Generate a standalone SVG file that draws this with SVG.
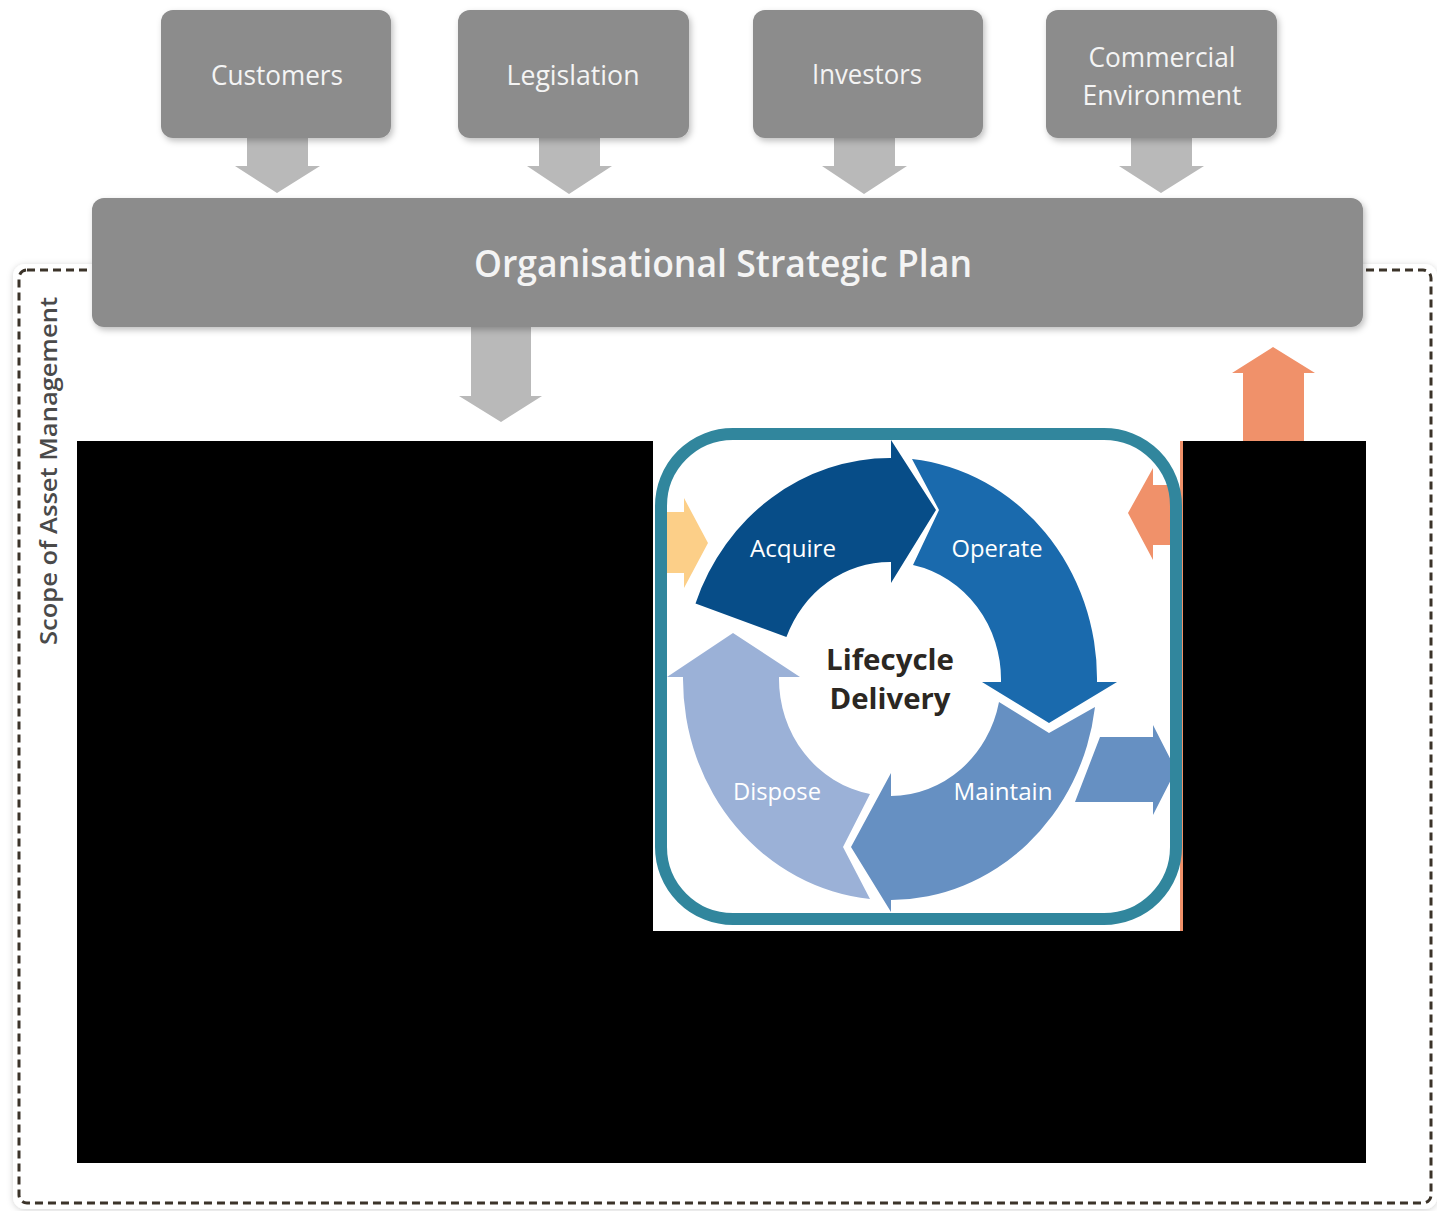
<svg xmlns="http://www.w3.org/2000/svg" width="1437" height="1211" viewBox="0 0 1437 1211">
<defs>
<style>
.box{fill:#8c8c8c;filter:url(#sh)}
.lbl{font-family:"Open Sans","Noto Sans",sans-serif;fill:#f4f4f4;text-anchor:middle}
.seg{font-family:"Open Sans","Noto Sans",sans-serif;fill:#ffffff;text-anchor:middle;font-size:24px}
.ctr{font-family:"Open Sans","Noto Sans",sans-serif;font-weight:700;font-size:29px;fill:#2b2722;text-anchor:middle}
.garrow{fill:#b9b9b9}
.red{fill:#000000}
</style>
<filter id="sh" x="-10%" y="-10%" width="120%" height="130%">
<feDropShadow dx="2" dy="3" stdDeviation="3" flood-color="#000" flood-opacity="0.25"/>
</filter>
<filter id="soft" x="-5%" y="-5%" width="110%" height="110%">
<feDropShadow dx="0" dy="1" stdDeviation="3" flood-color="#000" flood-opacity="0.18"/>
</filter>
</defs>
<rect width="1437" height="1211" fill="#ffffff"/>

<g id="scope">
<rect x="13" y="264" width="1424" height="945" rx="12" fill="#ffffff" filter="url(#soft)"/>
<rect x="19" y="270" width="1412" height="933" rx="8" fill="none" stroke="#3b3329" stroke-width="3" stroke-dasharray="8 5"/>
<text x="0" y="0" transform="translate(57,471) rotate(-90)" font-family="'Open Sans','Noto Sans',sans-serif" font-weight="600" font-size="23" fill="#4a4a4a" text-anchor="middle" textLength="348" lengthAdjust="spacingAndGlyphs">Scope of Asset Management</text>
</g>

<g id="connectors">
<polygon class="garrow" points="247,137 308,137 308,166 320,166 277,193 235,166 247,166"/>
<polygon class="garrow" points="539,137 600,137 600,166 612,166 569,194 527,166 539,166"/>
<polygon class="garrow" points="834,137 895,137 895,166 907,166 864,194 822,166 834,166"/>
<polygon class="garrow" points="1131,137 1192,137 1192,166 1204,166 1161,193 1119,166 1131,166"/>
<polygon class="garrow" points="471,326 531,326 531,396 542,396 501,422 459,396 471,396"/>
<polygon fill="#f0916a" points="1243,445 1243,373 1232,373 1273,347 1315,373 1304,373 1304,445"/>
</g>

<g id="customers">
<rect class="box" x="161" y="10" width="230" height="128" rx="12"/>
<text class="lbl" x="277" y="85" font-size="27" textLength="132" lengthAdjust="spacingAndGlyphs">Customers</text>
</g>
<g id="legislation">
<rect class="box" x="458" y="10" width="231" height="128" rx="12"/>
<text class="lbl" x="573" y="85" font-size="27" textLength="133" lengthAdjust="spacingAndGlyphs">Legislation</text>
</g>
<g id="investors">
<rect class="box" x="753" y="10" width="230" height="128" rx="12"/>
<text class="lbl" x="867" y="84" font-size="27" textLength="110" lengthAdjust="spacingAndGlyphs">Investors</text>
</g>
<g id="commercial">
<rect class="box" x="1046" y="10" width="231" height="128" rx="12"/>
<text class="lbl" x="1162" y="67" font-size="27" textLength="147" lengthAdjust="spacingAndGlyphs">Commercial</text>
<text class="lbl" x="1162" y="105" font-size="27" textLength="159" lengthAdjust="spacingAndGlyphs">Environment</text>
</g>
<g id="strategic-plan">
<rect class="box" x="92" y="198" width="1271" height="129" rx="12"/>
<text class="lbl" x="723" y="277" font-size="37" font-weight="600" textLength="498" lengthAdjust="spacingAndGlyphs">Organisational Strategic Plan</text>
</g>

<g id="redacted">
<rect class="red" x="77" y="441" width="576" height="722"/>
<rect class="red" x="653" y="931" width="530" height="232"/>
<rect class="red" x="1183" y="441" width="183" height="722"/>
</g>

<g id="lifecycle">
<rect x="653" y="441" width="530" height="490" fill="#ffffff"/>
<rect x="1180" y="441" width="3" height="490" fill="#f0916a"/>
<polygon fill="#fccf88" points="655,512 684,512 684,498 708,543 684,588 684,573 655,573"/>
<polygon fill="#f0916a" points="1176,485 1153,485 1153,468 1128,513 1153,560 1153,545 1176,545"/>
<polygon fill="#6690c2" points="1100,737 1153,737 1153,725 1176,770 1153,815 1153,802 1075,802"/>
<g id="acquire">
<path fill="#074d88" d="M695.5 603.4 A207 221 0 0 1 891 458 L891 440 L936 510 L891 583 L891 562 A111 117 0 0 0 786.4 637.1 Z"/>
<text class="seg" x="793" y="557" textLength="86" lengthAdjust="spacingAndGlyphs">Acquire</text>
</g>
<g id="operate">
<path fill="#1a6aad" d="M912 459 A207 221 0 0 1 1097 682 L1117 682 L1049 723 L982 682 L1001 682 A111 117 0 0 0 913 565 L939 510 Z"/>
<text class="seg" x="997" y="557" textLength="91" lengthAdjust="spacingAndGlyphs">Operate</text>
</g>
<g id="maintain">
<path fill="#6690c2" d="M1095 707 A207 221 0 0 1 891 900 L891 912 L851 847 L891 773 L891 796 A111 117 0 0 0 999 702 L1049 733 Z"/>
<text class="seg" x="1003" y="800" textLength="99" lengthAdjust="spacingAndGlyphs">Maintain</text>
</g>
<g id="dispose">
<path fill="#9bb1d7" d="M870 899 A207 221 0 0 1 683 677 L667 677 L733 633 L800 677 L779 677 A111 117 0 0 0 870 794 L843 847 Z"/>
<text class="seg" x="777" y="800" fill="#eef2fa" textLength="88" lengthAdjust="spacingAndGlyphs">Dispose</text>
</g>
<g id="centre">
<text class="ctr" x="890" y="670" textLength="128" lengthAdjust="spacingAndGlyphs">Lifecycle</text>
<text class="ctr" x="890" y="709" textLength="121" lengthAdjust="spacingAndGlyphs">Delivery</text>
</g>
<rect x="661" y="434" width="515" height="485" rx="72" fill="none" stroke="#31869d" stroke-width="12"/>
</g>
</svg>
